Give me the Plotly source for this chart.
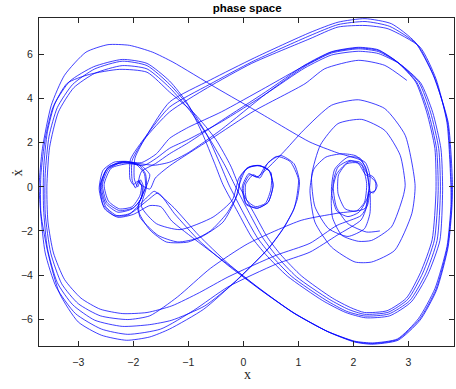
import plotly.graph_objects as go

# trajectoire, par morceaux (x, dx/dt)
start_spiral = [(2.48,-2.00),(2.24,-2.05),(1.90,-1.67),(1.69,-0.91),(1.63,0.15),(1.72,0.90),(1.94,1.20),(2.15,0.98),
                (2.24,0.15),(2.20,-0.70),(2.05,-1.10),(1.85,-1.00),(1.72,-0.30),(1.73,0.55),(1.88,1.05),(2.08,1.08),
                (2.22,0.55),(2.31,0.45),(2.40,0.22),(2.40,-0.15),(2.30,-0.30),(2.26,-0.80),(2.14,-1.30)]

loop_a = [(1.70,-1.75),(1.21,-2.56),(0.60,-3.10),(-0.28,-4.09),(-0.80,-4.80),(-1.30,-5.40),(-1.75,-5.70),(-2.19,-5.75),
          (-2.60,-5.55),(-2.95,-5.05),(-3.25,-4.20),(-3.45,-3.00),(-3.55,-1.60),(-3.57,0.00),(-3.52,1.80),(-3.36,3.40),
          (-3.08,4.50),(-2.70,5.15),(-2.20,5.50),(-1.75,5.35),(-1.34,4.50),(-0.97,3.45),(-0.62,2.20),(-0.33,0.95),
          (-0.15,0.05),(0.11,-1.20),(0.35,-2.30),(0.59,-3.10),(0.97,-4.09),(1.56,-5.10),(1.91,-5.56),(2.20,-5.78),
          (2.63,-5.69),(2.99,-5.10),(3.26,-3.91),(3.47,-2.42),(3.54,-0.16),(3.51,1.73),(3.36,3.39),(3.15,4.75),
          (2.80,5.66),(2.45,6.19),(2.09,6.30),(1.60,6.11),(1.12,5.51),(0.40,4.50),(-0.40,3.40),(-1.00,2.70),
          (-1.34,2.20),(-1.58,1.50),(-1.85,1.10),(-2.20,1.12),(-2.45,0.80),(-2.56,0.10),(-2.48,-0.70),(-2.25,-1.08),
          (-2.00,-0.95),(-1.85,-0.50),(-1.82,0.05),(-1.87,0.32),(-1.92,0.00),(-1.98,0.35)]

outer_1 = [(-1.97,1.30),(-1.74,2.40),(-1.34,3.85),(-0.60,4.85),(0.20,5.85),(1.21,7.00),(1.72,7.47),(2.21,7.63),
           (2.69,7.40),(3.12,6.57),(3.45,5.06),(3.72,2.94),(3.80,0.10),(3.79,-0.92),(3.72,-2.73),(3.51,-4.69),
           (3.21,-6.05),(2.81,-6.96),(2.33,-7.14),(2.02,-7.04),(1.54,-6.58),(0.93,-5.75),(0.32,-4.69),(-0.28,-3.56),
           (-0.80,-2.45),(-1.25,-1.22),(-1.55,-0.28),(-1.74,-0.61),(-2.05,-1.20),(-2.30,-1.30),(-2.50,-0.90),
           (-2.60,0.00),(-2.50,0.75),(-2.30,1.05),(-2.05,1.08),(-1.85,0.95),(-1.70,0.55)]

heart_1 = [(-1.75,0.10),(-1.92,-1.00),(-1.70,-1.95),(-1.40,-2.50),(-1.00,-2.50),(-0.60,-2.00),(-0.30,-1.20),
           (-0.10,-0.30),(-0.04,0.50),(0.12,0.92),(0.30,0.97),(0.48,0.70),(0.54,0.05),(0.45,-0.70),(0.25,-0.97),
           (0.05,-0.75),(0.00,0.00),(0.12,0.55),(0.27,0.44),(0.40,0.95),(0.60,1.38),(0.85,1.15),(1.00,0.35),
           (0.97,-0.46),(0.92,-1.00),(0.75,-1.80),(0.48,-2.73),(-0.12,-4.24),(-0.70,-5.40)]

loop_b = [(-1.30,-6.05),(-1.70,-6.25),(-2.20,-6.33),(-2.70,-6.05),(-3.10,-5.35),(-3.38,-4.35),(-3.56,-2.80),
          (-3.63,-1.00),(-3.63,0.80),(-3.56,2.50),(-3.42,3.80),(-3.15,4.80),(-2.72,5.45),(-2.20,5.78),(-1.75,5.60),
          (-1.34,4.80),(-1.02,3.80),(-0.75,2.45),(-0.52,1.05),(-0.37,0.10),(-0.10,-1.15),(0.15,-2.28),(0.41,-3.08),
          (0.80,-4.05),(1.44,-5.16),(1.86,-5.70),(2.22,-5.94),(2.66,-5.85),(3.05,-5.22),(3.35,-3.98),(3.57,-2.44),
          (3.62,-0.15),(3.59,1.72),(3.44,3.38),(3.22,4.72),(2.84,5.58),(2.45,6.05),(2.09,6.15),(1.60,5.98),
          (1.12,5.40),(0.40,4.20),(-0.40,2.95),(-1.00,2.15),(-1.34,1.75),(-1.58,1.30),(-1.80,0.98),(-2.10,1.05),
          (-2.40,0.85),(-2.53,0.10),(-2.45,-0.65),(-2.25,-1.00),(-2.02,-0.90),(-1.88,-0.40),(-1.85,0.05),
          (-1.90,0.30),(-1.96,-0.05),(-2.02,0.30)]

outer_2 = [(-2.02,1.20),(-1.80,2.15),(-1.34,3.40),(-0.65,4.50),(0.15,5.60),(1.21,6.72),(1.72,7.25),(2.21,7.32),
           (2.63,7.17),(3.21,6.34),(3.50,4.90),(3.70,2.90),(3.77,0.10),(3.77,-0.90),(3.70,-2.70),(3.48,-4.62),
           (3.18,-5.98),(2.80,-6.90),(2.35,-7.08),(2.02,-7.00),(1.52,-6.55),(0.90,-5.70),(0.30,-4.62),(-0.30,-3.48),
           (-0.82,-2.50),(-1.30,-1.55),(-1.50,-0.90)]

heart_2 = [(-1.70,-0.85),(-2.00,-1.25),(-2.28,-1.38),(-2.52,-1.00),(-2.62,-0.10),(-2.55,0.75),(-2.35,1.12),
           (-2.10,1.15),(-1.90,1.00),(-1.78,0.60),(-1.76,0.00),(-1.85,-0.90),(-1.58,-1.67),(-1.15,-1.94),
           (-0.55,-1.37),(-0.20,-0.60),(-0.08,0.40),(0.08,0.88),(0.30,0.95),(0.50,0.65),(0.50,-0.10),(0.40,-0.75),
           (0.22,-0.90),(0.06,-0.60),(0.04,0.10),(0.18,0.55),(0.30,0.40),(0.45,1.10),(0.68,1.42),(0.92,1.05),
           (1.02,0.25),(0.98,-0.55),(0.90,-1.10),(0.72,-1.90),(0.45,-2.80),(-0.15,-4.30),(-0.72,-5.55),
           (-1.34,-6.45),(-1.70,-6.81),(-2.12,-6.96)]

loop_c = [(-2.58,-6.73),(-3.00,-6.13),(-3.34,-4.83),(-3.55,-3.00),(-3.68,-1.20),(-3.71,0.07),(-3.65,1.75),
          (-3.49,3.70),(-3.25,5.06),(-2.86,6.11),(-2.46,6.45),(-2.07,6.42),(-1.65,6.11),(-1.28,5.66),(-0.50,4.50),
          (0.30,3.35),(1.21,2.03),(1.70,1.55),(2.21,1.12)]

right_well_2 = [(2.30,0.50),(2.27,-0.40),(2.10,-1.15),(1.90,-1.35),(1.70,-1.10),(1.60,-0.20),(1.66,0.80),(1.90,1.35),
                (2.12,1.30),(2.24,0.70),(2.30,-0.20),(2.30,-1.20),(2.20,-1.90),(1.90,-2.25),(1.55,-1.90),(1.30,-0.90),
                (1.24,0.50),(1.40,1.90),(1.72,2.87),(2.15,3.06),(2.57,2.56),(2.85,1.43),(2.94,0.07),(2.90,-0.46),
                (2.69,-1.82),(2.33,-2.43),(2.09,-2.47),(1.79,-2.20),(1.62,-1.40),(1.60,-0.40),(1.70,0.60),(1.92,1.15),
                (2.12,1.12),(2.25,0.60),(2.36,0.45),(2.43,0.05),(2.36,-0.28),(2.28,-0.20),(2.21,-0.98)]

loop_d = [(1.70,-1.20),(1.05,-1.52),(0.08,-2.58),(-0.60,-3.70),(-1.20,-5.00),(-1.70,-5.85),(-2.10,-6.02),
          (-2.60,-5.85),(-3.00,-5.30),(-3.30,-4.40),(-3.50,-3.00),(-3.60,-1.20),(-3.60,0.60),(-3.53,2.30),
          (-3.38,3.60),(-3.10,4.65),(-2.70,5.35),(-2.20,5.70),(-1.75,5.50),(-1.34,4.65),(-0.98,3.62),(-0.66,2.35),
          (-0.42,1.02),(-0.26,0.08),(0.00,-1.18),(0.25,-2.29),(0.50,-3.09),(0.88,-4.07),(1.50,-5.14),(1.88,-5.65),
          (2.21,-5.86),(2.64,-5.77),(3.02,-5.17),(3.31,-3.95),(3.52,-2.43),(3.58,-0.15),(3.55,1.73),(3.40,3.39),
          (3.19,4.74),(2.82,5.62),(2.45,6.14),(2.09,6.26),(1.60,6.07),(1.12,5.47),(0.40,4.20),(-0.40,2.60),
          (-1.00,1.55),(-1.34,1.12),(-1.62,0.98),(-1.88,1.05),(-2.22,1.14),(-2.47,0.85),(-2.58,0.05),(-2.50,-0.75),
          (-2.28,-1.15),(-2.02,-1.00),(-1.86,-0.55),(-1.84,0.02),(-1.92,0.25),(-2.00,0.10),(-2.06,0.35)]

outer_3 = [(-2.05,1.25),(-1.77,2.30),(-1.34,3.62),(-0.62,4.64),(0.18,5.70),(1.21,6.86),(1.72,7.36),(2.21,7.50),
           (2.66,7.28),(3.16,6.45),(3.47,4.98),(3.71,2.92),(3.78,0.10),(3.78,-0.91),(3.71,-2.71),(3.50,-4.65),
           (3.20,-6.01),(2.80,-6.93),(2.34,-7.11),(2.02,-7.02),(1.53,-6.56),(0.92,-5.72),(0.31,-4.66),(-0.29,-3.45),
           (-0.81,-2.20),(-1.26,-0.95),(-1.48,-0.45),(-1.62,-0.20),(-1.80,-0.60),(-2.10,-1.28),(-2.35,-1.30),
           (-2.55,-0.80),(-2.60,0.10),(-2.45,0.90),(-2.20,1.10),(-1.95,1.02),(-1.80,0.60),(-1.78,0.00),(-1.90,-0.80)]

heart_3 = [(-1.88,-1.37),(-1.55,-2.20),(-1.19,-2.50),(-0.79,-2.30),(-0.37,-1.60),(-0.15,-0.60),(-0.06,0.20),
           (0.05,0.80),(0.25,0.97),(0.45,0.80),(0.54,0.10),(0.45,-0.70),(0.25,-0.97),(0.05,-0.80),(-0.02,0.00),
           (0.10,0.60),(0.24,0.44),(0.70,1.50),(1.09,2.56),(1.60,3.70),(2.09,3.95),(2.57,3.55),(2.94,2.34),
           (3.12,0.07),(3.06,-1.22),(2.75,-2.88),(2.33,-3.41),(2.03,-3.41),(1.60,-2.73),(1.30,-1.60),(1.21,-0.16),
           (1.28,0.80),(1.50,1.35),(1.80,1.50),(2.05,1.40),(2.22,0.90),(2.28,0.00),(2.24,-0.90),(2.14,-1.50)]

loop_e = [(1.70,-2.20),(1.21,-2.96),(0.60,-3.50),(-0.28,-4.54),(-0.90,-5.60),(-1.50,-6.45),(-2.10,-6.69),
          (-2.58,-6.45),(-3.05,-5.75),(-3.40,-4.55),(-3.60,-3.00),(-3.68,-1.20),(-3.68,0.50),(-3.60,2.20),
          (-3.46,3.60),(-3.20,4.70),(-2.80,5.10),(-2.25,5.33),(-1.75,5.20),(-1.34,4.30),(-0.88,3.30),(-0.50,2.15),
          (-0.23,0.95),(-0.08,0.05),(0.20,-1.22),(0.44,-2.30),(0.68,-3.08),(1.06,-4.05),(1.62,-5.05),(1.95,-5.48),
          (2.20,-5.70),(2.61,-5.62),(2.96,-5.05),(3.22,-3.88),(3.43,-2.40),(3.50,-0.17),(3.48,1.74),(3.33,3.40),
          (3.13,4.76),(2.79,5.68),(2.45,6.22),(2.09,6.33),(1.60,6.13),(1.12,5.53),(0.40,4.30),(-0.40,3.00),
          (-1.00,2.00),(-1.34,1.50),(-1.60,1.05),(-1.85,0.70),(-1.90,0.20),(-1.70,-0.10)]

final_rise = [(-1.60,0.40),(-1.34,0.95),(-0.60,2.15),(0.20,3.45),(1.12,4.68),(1.48,5.36),(2.09,5.74),(2.57,5.51),
              (2.97,4.83)]

morceaux = [start_spiral, loop_a, outer_1, heart_1, loop_b, outer_2, heart_2, loop_c, right_well_2,
            loop_d, outer_3, heart_3, loop_e, final_rise]

x_traj = []
v_traj = []
for m in morceaux:
    for px, pv in m:
        x_traj.append(px)
        v_traj.append(pv)

x_ticks = [-3, -2, -1, 0, 1, 2, 3]
y_ticks = [-6, -4, -2, 0, 2, 4, 6]

fig = go.Figure()
fig.add_trace(go.Scatter(x=x_traj, y=v_traj, mode='lines',
                         line=dict(color='#0000ff', width=0.75, shape='spline', smoothing=0.6),
                         hoverinfo='skip'))

axe = dict(showgrid=False, zeroline=False, showline=True, mirror='ticks', linecolor='#262626', linewidth=1,
           ticks='inside', ticklen=5, tickcolor='#262626', tickwidth=1, automargin=False,
           tickfont=dict(family='Liberation Sans, Arial', size=10.5, color='#262626'))

fig.update_layout(
    width=456, height=389,
    margin=dict(l=39, r=2, t=18, b=43),
    plot_bgcolor='white', paper_bgcolor='white',
    showlegend=False,
    title=dict(text='<b>phase space</b>', x=0.542, xanchor='center', y=0.979, yanchor='middle',
               font=dict(family='Liberation Sans, Arial', size=11.5, color='black')),
    xaxis=dict(axe, range=[-3.713, 3.827], tickvals=x_ticks, ticklabelstandoff=6),
    yaxis=dict(axe, range=[-7.22, 7.66], tickvals=y_ticks, ticklabelstandoff=3),
    annotations=[
        dict(text='x', xref='paper', yref='paper', x=0.502, y=-0.088, xanchor='center', yanchor='middle',
             showarrow=False, font=dict(family='Liberation Serif, DejaVu Serif', size=14, color='#262626')),
        dict(text='x\u0307', xref='paper', yref='paper', x=-0.053, y=0.527, xanchor='center', yanchor='middle',
             textangle=-90, showarrow=False,
             font=dict(family='Liberation Serif, DejaVu Serif', size=14, color='#262626')),
    ],
)

# la page par défaut a une marge de 8 px autour du graphique
fig.write_html("out.html", config={'displayModeBar': False},
               post_script="document.body.style.margin='0';")
